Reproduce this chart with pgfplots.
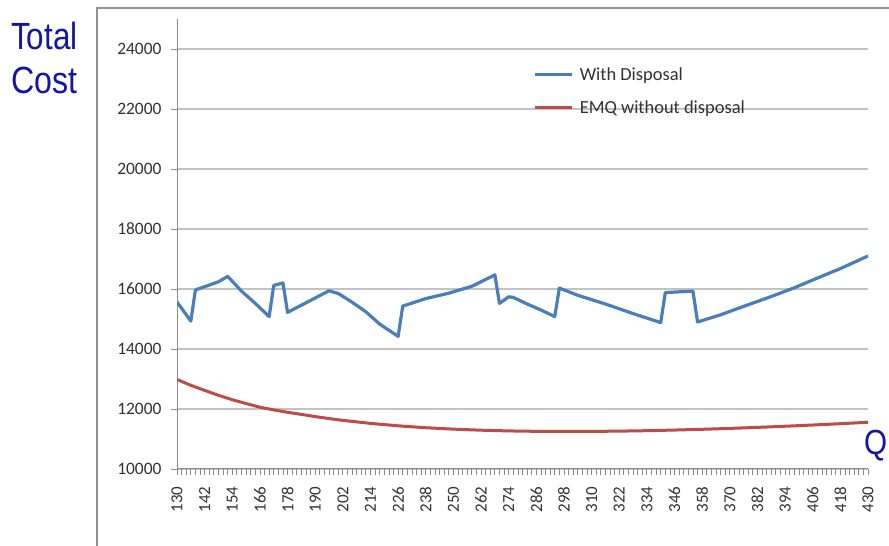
\documentclass[border=0pt]{standalone}
\usepackage{fontspec}
\usepackage{pgfplots}
\pgfplotsset{compat=1.18}
\setmainfont{Carlito}
\newfontfamily\arialfont{Liberation Sans}
\definecolor{exblue}{RGB}{74,126,187}
\definecolor{exred}{RGB}{190,75,72}
\definecolor{titleblue}{RGB}{20,20,165}
\definecolor{gridgray}{RGB}{195,195,195}
\definecolor{axgray}{RGB}{140,140,140}
\definecolor{framegray}{RGB}{145,145,145}
\definecolor{lbl}{RGB}{50,50,50}
\begin{document}
\begin{tikzpicture}[x=1bp,y=1bp]
\useasboundingbox (0,0) rectangle (889,546);
\fill[white] (0,0) rectangle (889,546);
\draw[framegray, line width=1.5bp] (97,-5) -- (97,538) -- (895,538);
\node[anchor=base west, inner sep=0, text=titleblue, font=\arialfont\fontsize{38}{44}\selectfont] at (11,496) {\scalebox{0.83}[1]{Total}};
\node[anchor=base west, inner sep=0, text=titleblue, font=\arialfont\fontsize{38}{44}\selectfont] at (11,452) {\scalebox{0.85}[1]{Cost}};
\node[anchor=base west, inner sep=0, text=titleblue, font=\arialfont\fontsize{35}{40}\selectfont] at (864,91) {\scalebox{0.85}[1]{Q}};
\begin{axis}[
  at={(177bp,77bp)}, anchor=south west,
  scale only axis, width=691bp, height=450bp,
  xmin=130, xmax=430, ymin=10000, ymax=25000,
  axis x line*=bottom, axis y line*=left,
  axis line style={draw=axgray, line width=1bp, -},
  xtick={130,142,...,430},
  minor x tick num=5,
  ytick={10000,12000,...,24000},
  scaled y ticks=false, scaled x ticks=false,
  tick align=outside,
  major tick length=6bp, minor tick length=6bp,
  tick style={draw=axgray, line width=0.8bp},
  ymajorgrids,
  grid style={draw=gridgray, line width=1.2bp},
  /pgf/number format/.cd, 1000 sep={}, assume math mode=true,
  /pgfplots/.cd,
  yticklabel style={font=\fontsize{17.5}{20}\selectfont, text=lbl},
  yticklabel shift={6bp},
  xticklabel style={rotate=90, anchor=east, font=\fontsize{17}{20}\selectfont, text=lbl},
  xticklabel shift={8bp},
  legend style={at={(0.516,0.897)}, anchor=north west, draw=none, fill=none,
    font=\fontsize{18.5}{22}\selectfont, text=lbl, inner sep=0pt, row sep=14.5bp,
    /tikz/every odd column/.append style={column sep=4bp}},
  legend cell align=left,
  legend image code/.code={\draw[#1, line width=3bp] (0bp,0bp) -- (37bp,0bp);},
]
\addplot[exblue, line width=3.2bp, line join=round] coordinates {
(130,15570) (136,14930) (138,15970) (144,16130) (148,16240) (152,16420)
(158,15930) (164,15520) (170,15080) (172,16120) (176,16200) (178,15220)
(184,15460) (190,15700) (196,15940) (200,15850) (206,15560) (212,15240)
(218,14830) (226,14420) (228,15430) (238,15680) (248,15860) (258,16090)
(268,16470) (270,15520) (274,15740) (276,15720) (282,15500) (288,15300)
(294,15080) (296,16030) (304,15790) (316,15500) (328,15180) (340,14880)
(342,15880) (354,15930) (356,14900) (366,15140) (376,15420) (388,15750)
(398,16040) (406,16300) (418,16680) (430,17100)
};
\addlegendentry{With Disposal}
\addplot[exred, line width=3bp, line join=round] coordinates {
(130,12984) (136,12790) (142,12620) (148,12455) (154,12310) (160,12180)
(166,12060) (172,11970) (178,11890) (184,11820) (190,11747) (196,11680)
(202,11621) (214,11520) (226,11439) (238,11376) (250,11328) (262,11293)
(274,11269) (286,11255) (298,11250) (310,11253) (322,11262) (334,11277)
(346,11298) (358,11323) (370,11353) (382,11387) (394,11425) (406,11466)
(418,11510) (430,11557)
};
\addlegendentry{EMQ without disposal}
\end{axis}
\end{tikzpicture}
\end{document}
